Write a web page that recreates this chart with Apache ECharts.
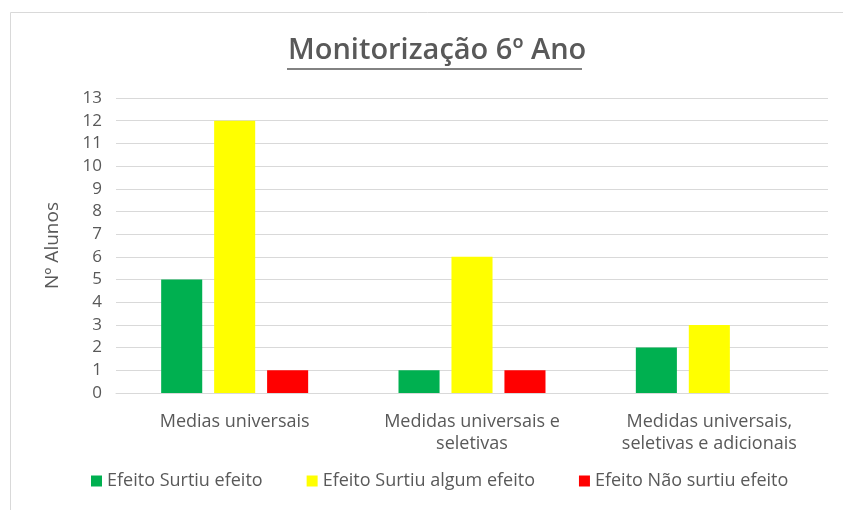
<!DOCTYPE html>
<html>
<head>
<meta charset="utf-8">
<script src="https://cdn.jsdelivr.net/npm/echarts@6/dist/echarts.min.js"></script>
<style>
  html, body { margin: 0; padding: 0; background: #fff; }
  #chart { width: 843px; height: 510px; }
</style>
</head>
<body>
<div id="chart"></div>
<script>
// Monitoring results for 6th grade, students per measure level
const categories = [
  'Medias universais',
  'Medidas universais e\nseletivas',
  'Medidas universais,\nseletivas e adicionais'
];
const seriesNames = [
  'Efeito Surtiu efeito',
  'Efeito Surtiu algum efeito',
  'Efeito Não surtiu efeito'
];
const surtiuEfeito = [5, 1, 2];
const surtiuAlgumEfeito = [12, 6, 3];
const naoSurtiuEfeito = [1, 1, 0];
const colors = ['#00B050', '#FFFF00', '#FF0000'];

const textColor = '#595959';
const fontFamily = '"Open Sans", Lato, sans-serif';

const chart = echarts.init(document.getElementById('chart'));
const values = [surtiuEfeito, surtiuAlgumEfeito, naoSurtiuEfeito];

chart.setOption({
  animation: false,
  textStyle: { fontFamily: fontFamily, color: textColor },
  title: {
    text: 'Monitorização 6º Ano',
    left: 283,
    top: 31,
    textStyle: { fontSize: 29, fontWeight: 600, color: textColor, fontFamily: fontFamily }
  },
  graphic: [
    {
      type: 'rect',
      shape: { x: 10.5, y: 12.5, width: 900, height: 520 },
      style: { fill: 'none', stroke: '#d9d9d9', lineWidth: 1 },
      silent: true
    },
    {
      type: 'line',
      shape: { x1: 287, y1: 69, x2: 582, y2: 69 },
      style: { stroke: textColor, lineWidth: 1.5 },
      silent: true
    }
  ],
  legend: {
    bottom: 15,
    left: 86,
    itemWidth: 11,
    itemHeight: 11,
    itemGap: 44,
    icon: 'rect',
    textStyle: { fontSize: 18, color: textColor, fontFamily: fontFamily },
    data: seriesNames
  },
  grid: { left: 116, right: 15, top: 98, bottom: 117 },
  xAxis: {
    type: 'category',
    data: categories,
    axisLine: { lineStyle: { color: '#d9d9d9' } },
    axisTick: { show: false },
    axisLabel: { fontSize: 18, color: textColor, margin: 18, lineHeight: 22, interval: 0 }
  },
  yAxis: {
    type: 'value',
    min: 0,
    max: 13,
    interval: 1,
    name: 'Nº Alunos',
    nameLocation: 'middle',
    nameGap: 54,
    nameTextStyle: { fontSize: 19, color: textColor },
    axisLine: { show: false },
    axisTick: { show: false },
    axisLabel: { fontSize: 17, color: textColor, margin: 14 },
    splitLine: { lineStyle: { color: '#d9d9d9' } }
  },
  series: seriesNames.map((name, i) => ({
    name: name,
    type: 'bar',
    data: values[i],
    barWidth: '17.3%',
    barGap: '29%',
    itemStyle: { color: colors[i] }
  }))
});
</script>
</body>
</html>
